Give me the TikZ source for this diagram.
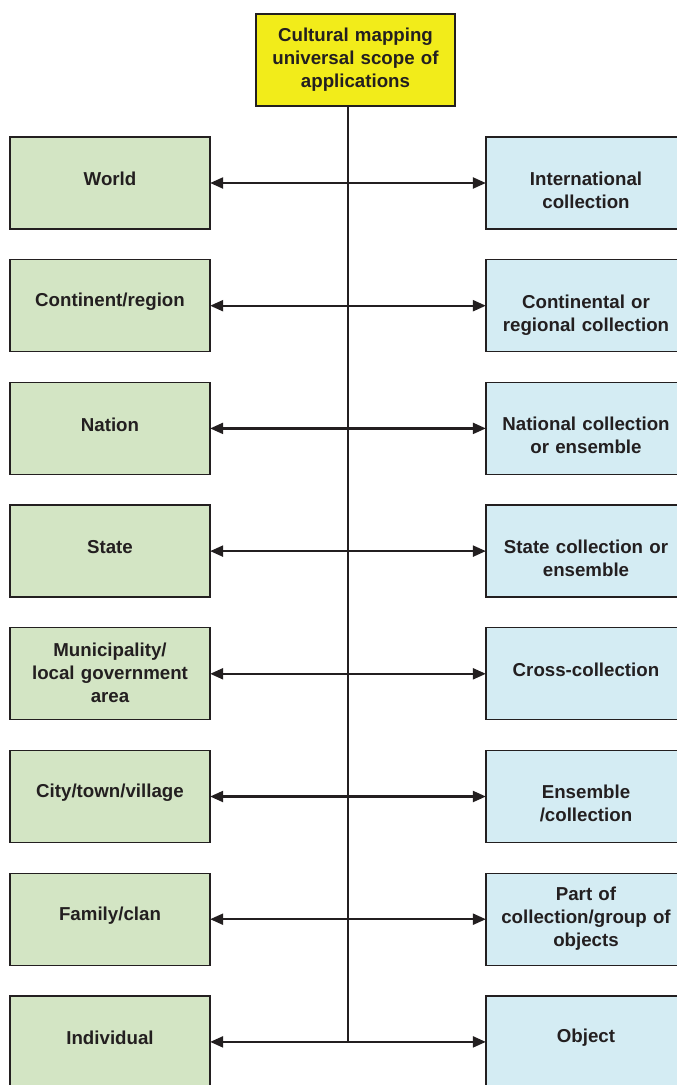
\documentclass[tikz,border=0pt]{standalone}
\usepackage{fontspec}
\setmainfont{Liberation Sans}
\usetikzlibrary{arrows.meta,calc}
\definecolor{inkdark}{HTML}{231F20}
\definecolor{titleyellow}{HTML}{F2EC1A}
\definecolor{placegreen}{HTML}{D3E5C4}
\definecolor{holdblue}{HTML}{D4ECF3}
\tikzset{
  box/.style={draw=inkdark, line width=1.3pt, minimum width=200pt, minimum height=92pt,
    inner sep=0pt},
  boxtext/.style={text width=192pt, align=center, inner sep=0pt, text=inkdark,
    font=\fontsize{18.7}{23}\selectfont\bfseries},
  placebox/.style={box, fill=placegreen},
  holdbox/.style={box, fill=holdblue},
  titlebox/.style={box, boxtext, fill=titleyellow, minimum width=199pt},
  spine/.style={draw=inkdark, line width=1.4pt},
  link/.style={draw=inkdark, line width=2.2pt, {Triangle[length=13pt,width=11pt]}-{Triangle[length=13pt,width=11pt]}, shorten <=-0.5pt, shorten >=-0.5pt}
}
\begin{document}
\begin{tikzpicture}[x=1pt,y=-1pt]
  \useasboundingbox (0,0) rectangle (677,1085);
  \clip (0,0) rectangle (677,1085);

  \node[titlebox] (top) at (355.5,60) {Cultural mapping\\universal scope of\\applications};
  \coordinate (axis) at (348,0);

  % levels of place (left) and matching collection scale (right);
  % \ld and \rd nudge each caption up or down inside its box
  \foreach \i/\lt/\ld/\rt/\rd in {
      0/{World}/-4/{International\\collection}/7,
      1/{Continent/region}/-4/{Continental or\\regional collection}/9,
      2/{Nation}/-4/{National collection\\or ensemble}/7,
      3/{State}/-4/{State collection or\\ensemble}/7,
      4/{Municipality/\\local government\\area}/-1/{Cross-collection}/-4,
      5/{City/town/village}/-4/{Ensemble\\/collection}/7,
      6/{Family/clan}/-4/{Part of\\collection/group of\\objects}/-1,
      7/{Individual}/-4/{Object}/-4} {
    \node[placebox] (L\i) at (110,183+122.7*\i) {};
    \node[holdbox] (R\i) at (586,183+122.7*\i) {};
    \node[boxtext] (Lt\i) at ($(L\i.center)+(0,\ld)$) {\lt};
    \node[boxtext] (Rt\i) at ($(R\i.center)+(0,\rd)$) {\rt};
    \draw[link] (L\i.east) -- (R\i.west);
  }

  \draw[spine] (top.south -| axis) -- (L7.east -| axis);
\end{tikzpicture}
\end{document}
